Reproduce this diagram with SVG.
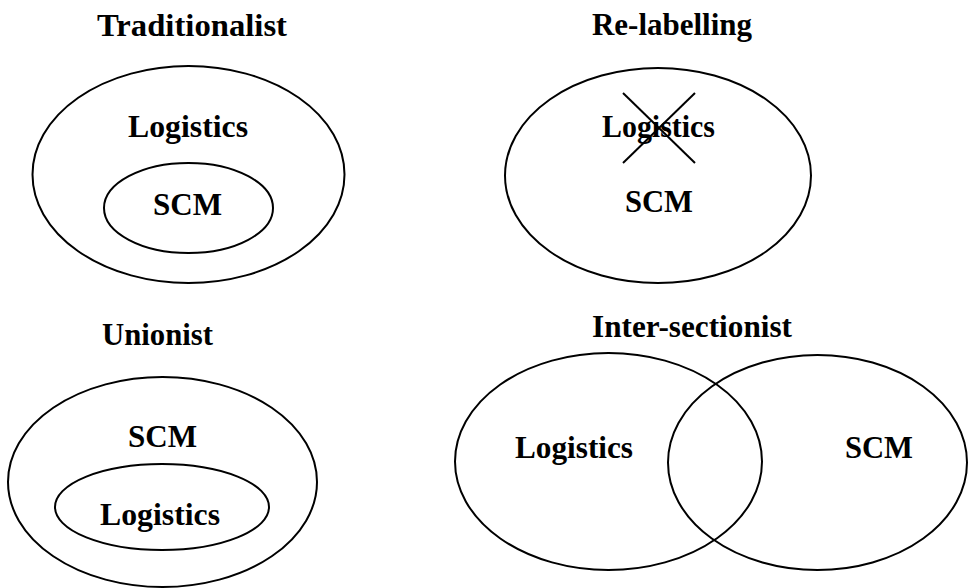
<svg xmlns="http://www.w3.org/2000/svg" width="969" height="588" viewBox="0 0 969 588">
<style>
.e{fill:none;stroke:#000;stroke-width:2}
.l{stroke:#000;stroke-width:2;fill:none}
text{font-family:"Liberation Serif","Times New Roman",serif;font-weight:bold;font-size:31px;fill:#000}
</style>
<rect width="969" height="588" fill="#fff"/>
<g id="traditionalist">
<text x="97" y="36" textLength="190" lengthAdjust="spacingAndGlyphs">Traditionalist</text>
<ellipse class="e" cx="188.5" cy="174.5" rx="156" ry="108.5"/>
<text x="128" y="137" textLength="120" lengthAdjust="spacingAndGlyphs">Logistics</text>
<ellipse class="e" cx="188.5" cy="208" rx="84.5" ry="45"/>
<text x="153" y="215" textLength="69" lengthAdjust="spacingAndGlyphs">SCM</text>
</g>
<g id="relabelling">
<text x="592" y="35" textLength="160" lengthAdjust="spacingAndGlyphs">Re-labelling</text>
<ellipse class="e" cx="658" cy="175.5" rx="153" ry="107.5"/>
<text x="602" y="137" textLength="113" lengthAdjust="spacingAndGlyphs">Logistics</text>
<text x="625" y="212" textLength="68" lengthAdjust="spacingAndGlyphs">SCM</text>
</g>
<g id="unionist">
<text x="102" y="345" textLength="111" lengthAdjust="spacingAndGlyphs">Unionist</text>
<ellipse class="e" cx="162.5" cy="482" rx="154.5" ry="105"/>
<text x="128" y="447" textLength="69" lengthAdjust="spacingAndGlyphs">SCM</text>
<ellipse class="e" cx="162" cy="507" rx="107" ry="43"/>
<text x="100" y="525" textLength="120" lengthAdjust="spacingAndGlyphs">Logistics</text>
</g>
<g id="intersectionist">
<text x="592" y="337" textLength="200" lengthAdjust="spacingAndGlyphs">Inter-sectionist</text>
<ellipse class="e" cx="608.5" cy="461.5" rx="153.5" ry="108.5"/>
<ellipse class="e" cx="817.5" cy="462.5" rx="149.5" ry="107.5"/>
<text x="515" y="458" textLength="118" lengthAdjust="spacingAndGlyphs">Logistics</text>
<text x="845" y="458" textLength="68" lengthAdjust="spacingAndGlyphs">SCM</text>
</g>
<g id="connectors">
<line class="l" x1="623" y1="93" x2="695" y2="163"/>
<line class="l" x1="695" y1="93" x2="623" y2="163"/>
</g>
</svg>
